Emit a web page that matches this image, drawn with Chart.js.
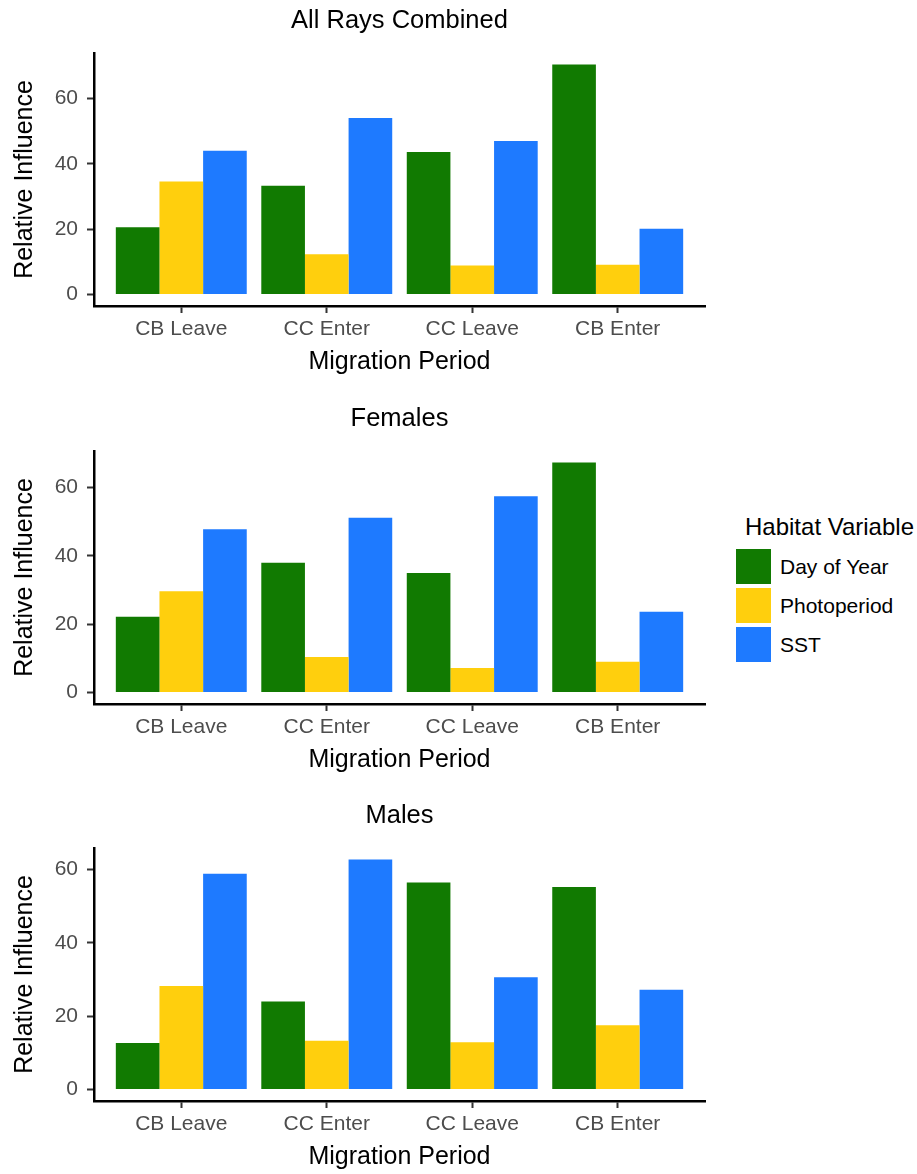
<!DOCTYPE html>
<html>
<head>
<meta charset="utf-8">
<script src="https://cdn.jsdelivr.net/npm/chart.js@4/dist/chart.umd.min.js"></script>
<style>
  html, body { margin: 0; padding: 0; background: #ffffff; }
  body { width: 917px; height: 1174px; position: relative; overflow: hidden;
         font-family: "Liberation Sans", Arial, Helvetica, sans-serif; }
  canvas { position: absolute; left: 0; }
  .lg-title { position: absolute; left: 745px; top: 512px; font-size: 24px; line-height: 30px; color: #000; white-space: nowrap; }
  .lg-key { position: absolute; left: 736px; width: 35px; height: 35px; }
  .lg-label { position: absolute; left: 780px; font-size: 21px; line-height: 26px; color: #000; white-space: nowrap; }
</style>
</head>
<body>
<canvas id="panelAll" width="720" height="379" style="top:0px"></canvas>
<canvas id="panelFemales" width="720" height="379" style="top:398px"></canvas>
<canvas id="panelMales" width="720" height="379" style="top:795px"></canvas>
<div id="legend"></div>

<script>
// Migration periods (x categories) and y-axis ticks
const periods = ["CB Leave", "CC Enter", "CC Leave", "CB Enter"];
const yTicks = [0, 20, 40, 60];

// Habitat variables (series)
const variableNames = ["Day of Year", "Photoperiod", "SST"];
const variableColors = ["#117A01", "#FFCF0D", "#1E7AFF"];

// Relative influence — all rays combined
const allDayOfYear = [20.6, 33.3, 43.6, 70.4];
const allPhotoperiod = [34.6, 12.3, 8.9, 9.1];
const allSST = [44.0, 54.0, 47.0, 20.1];

// Relative influence — females
const femDayOfYear = [22.2, 38.0, 35.0, 67.3];
const femPhotoperiod = [29.6, 10.4, 7.2, 9.0];
const femSST = [47.8, 51.1, 57.4, 23.6];

// Relative influence — males
const maleDayOfYear = [12.7, 24.0, 56.4, 55.2];
const malePhotoperiod = [28.2, 13.3, 12.9, 17.5];
const maleSST = [58.8, 62.7, 30.6, 27.2];

const FONT = '"Liberation Sans", Arial, Helvetica, sans-serif';
Chart.defaults.font.family = FONT;

function makePanel(canvasId, title, seriesList) {
  const datasets = seriesList.map((vals, s) => ({
    label: variableNames[s],
    data: vals.map((v, i) => ({ x: i + 1, y: v })),
    backgroundColor: variableColors[s],
    borderWidth: 0,
    categoryPercentage: 0.9,
    barPercentage: 1.0
  }));
  const maxVal = Math.max(...seriesList.flat());

  return new Chart(document.getElementById(canvasId), {
    type: 'bar',
    data: { datasets },
    options: {
      responsive: false,
      animation: false,
      devicePixelRatio: 1,
      layout: { padding: { left: 0, right: 15, top: 0, bottom: 0 } },
      plugins: {
        legend: { display: false },
        tooltip: { enabled: false },
        title: {
          display: true,
          text: title,
          fullSize: false,
          color: '#000000',
          font: { size: 25.5, weight: 'normal', family: FONT },
          padding: { top: 5.7, bottom: 16.7 }
        }
      },
      scales: {
        x: {
          type: 'linear',
          min: 0.4,
          max: 4.6,
          offset: false,
          grid: {
            display: true, offset: false, drawOnChartArea: false, drawTicks: true,
            tickLength: 7, tickWidth: 2, tickColor: '#333333'
          },
          border: { display: true, color: '#000000', width: 2.5 },
          afterBuildTicks: (scale) => { scale.ticks = periods.map((p, i) => ({ value: i + 1 })); },
          afterFit: (scale) => { scale.height = 73; },
          ticks: {
            color: '#4D4D4D',
            font: { size: 21, family: FONT },
            padding: 3.4,
            maxRotation: 0,
            autoSkip: false,
            callback: (v) => periods[Math.round(v) - 1]
          },
          title: {
            display: true,
            text: 'Migration Period',
            color: '#000000',
            font: { size: 25, family: FONT },
            padding: { top: 1.5, bottom: 1.5 }
          }
        },
        y: {
          type: 'linear',
          min: -0.05 * maxVal,
          max: 1.05 * maxVal,
          grid: {
            display: true, drawOnChartArea: false, drawTicks: true,
            tickLength: 7, tickWidth: 2, tickColor: '#333333'
          },
          border: { display: true, color: '#000000', width: 2.5 },
          afterBuildTicks: (scale) => { scale.ticks = yTicks.map(v => ({ value: v })); },
          afterFit: (scale) => { scale.width = 94; },
          ticks: {
            color: '#4D4D4D',
            font: { size: 21, family: FONT },
            padding: 9,
            callback: (v) => String(v)
          },
          title: {
            display: true,
            text: 'Relative Influence',
            color: '#000000',
            font: { size: 25, family: FONT },
            padding: { top: 10, bottom: 2 }
          }
        }
      }
    }
  });
}

makePanel('panelAll', 'All Rays Combined', [allDayOfYear, allPhotoperiod, allSST]);
makePanel('panelFemales', 'Females', [femDayOfYear, femPhotoperiod, femSST]);
makePanel('panelMales', 'Males', [maleDayOfYear, malePhotoperiod, maleSST]);

// Shared legend for the habitat variables
const legend = document.getElementById('legend');
const lgTitle = document.createElement('div');
lgTitle.className = 'lg-title';
lgTitle.textContent = 'Habitat Variable';
legend.appendChild(lgTitle);
variableNames.forEach((name, i) => {
  const top = 549 + i * 39;
  const key = document.createElement('div');
  key.className = 'lg-key';
  key.style.top = top + 'px';
  key.style.background = variableColors[i];
  legend.appendChild(key);
  const lab = document.createElement('div');
  lab.className = 'lg-label';
  lab.style.top = (top + 4.5) + 'px';
  lab.textContent = name;
  legend.appendChild(lab);
});
</script>
</body>
</html>
